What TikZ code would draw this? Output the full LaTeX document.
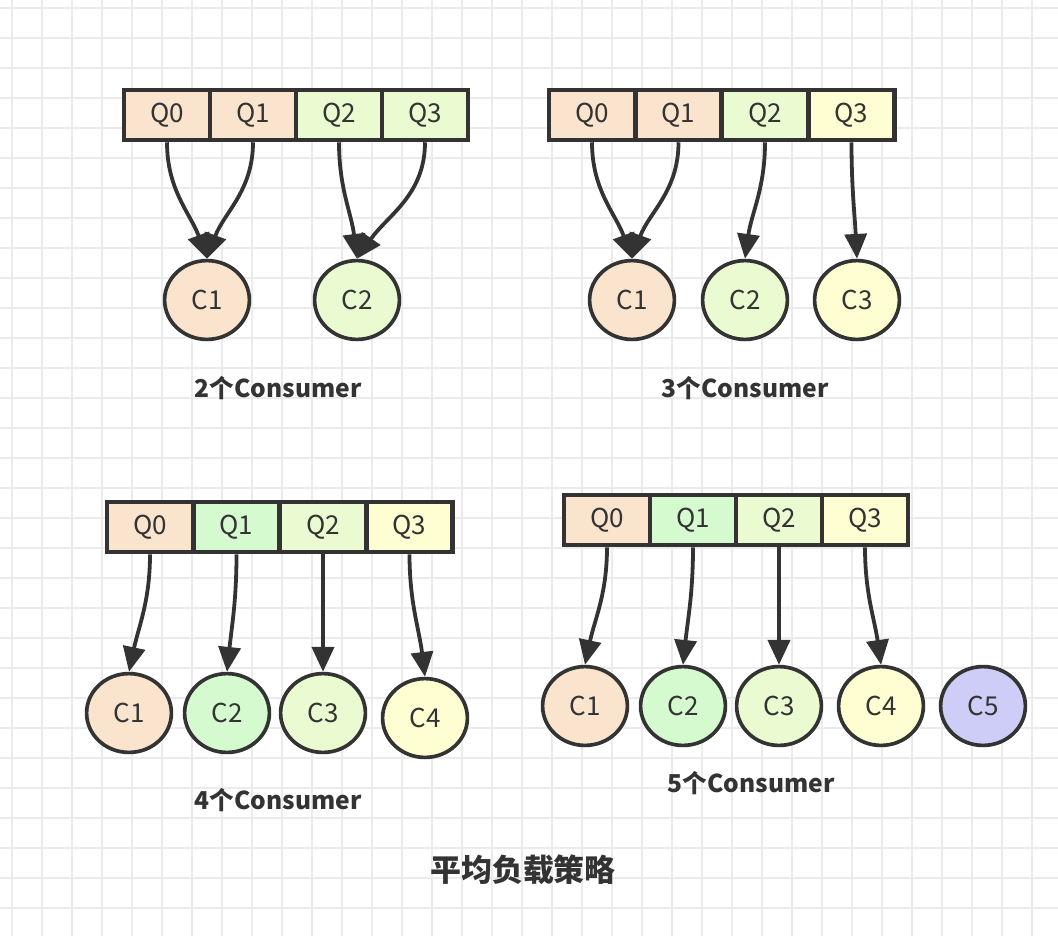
\documentclass[tikz,border=0pt]{standalone}
\usepackage{fontspec}
\setmainfont{Noto Sans CJK SC}
\usetikzlibrary{arrows.meta,shapes.geometric}
\definecolor{ink}{HTML}{333333}
\definecolor{gridline}{HTML}{EBEBEB}
\definecolor{qpeach}{HTML}{FAE4CD}
\definecolor{qlime}{HTML}{EAFBD2}
\definecolor{qgreen}{HTML}{D6FAD0}
\definecolor{qyellow}{HTML}{FEFED2}
\definecolor{qviolet}{HTML}{CDCDF8}
\tikzset{
  qcell/.style={draw=ink,line width=3.2pt,minimum width=2.15cm,minimum height=1.25cm,inner sep=0pt,text=ink,font=\fontsize{18.5}{20}\selectfont},
  cnode/.style={ellipse,draw=ink,line width=2.6pt,minimum width=2.12cm,minimum height=1.97cm,inner sep=0pt,text=ink,font=\fontsize{18.5}{20}\selectfont},
  link/.style={draw=ink,line width=2.7pt,-{Triangle[length=0.62cm,width=0.55cm]}},
  caption/.style={text=ink,font=\fontsize{17.5}{20}\selectfont\bfseries}
}

\begin{document}
\begin{tikzpicture}[x=0.025cm,y=-0.025cm]
\fill[white] (0,0) rectangle (1058,936);
\useasboundingbox (0,0) rectangle (1058,936);
\foreach \gx in {12,42,...,1052} \draw[gridline,line width=1.1pt] (\gx,0) -- (\gx,936);
\foreach \gy in {8,38,...,928} \draw[gridline,line width=1.1pt] (0,\gy) -- (1058,\gy);

% 2 consumers
\foreach \i/\c in {0/qpeach,1/qpeach,2/qlime,3/qlime}
  \node[qcell,fill=\c] (pa\i) at ({167+86*\i},115) {\raisebox{-0.05cm}{Q\i}};
\node[cnode,fill=qpeach] (ca1) at (207,300) {C1};
\node[cnode,fill=qlime] (ca2) at (357,300) {C2};
\draw[link] (pa0.south) to[out=-90,in=110] (ca1.north);
\draw[link] (pa1.south) to[out=-90,in=70] (ca1.north);
\draw[link] (pa2.south) to[out=-90,in=97] (ca2.north);
\draw[link] (pa3.south) to[out=-90,in=55] (ca2.north);
\node[caption] (la) at (278,388) {2个Consumer};

% 3 consumers
\foreach \i/\c in {0/qpeach,1/qpeach,2/qlime,3/qyellow}
  \node[qcell,fill=\c] (pb\i) at ({592+86.5*\i},115) {\raisebox{-0.05cm}{Q\i}};
\node[cnode,fill=qpeach] (cb1) at (632,300) {C1};
\node[cnode,fill=qlime] (cb2) at (745,300) {C2};
\node[cnode,fill=qyellow] (cb3) at (857,300) {C3};
\draw[link] (pb0.south) to[out=-90,in=110] (cb1.north);
\draw[link] (pb1.south) to[out=-90,in=70] (cb1.north);
\draw[link] (pb2.south) to[out=-90,in=82] (cb2.north);
\draw[link] (pb3.south) to[out=-90,in=93] (cb3.north);
\node[caption] (lb) at (745,388) {3个Consumer};

% 4 consumers
\foreach \i/\c in {0/qpeach,1/qgreen,2/qlime,3/qyellow}
  \node[qcell,fill=\c] (pc\i) at ({150+86.5*\i},527) {\raisebox{-0.05cm}{Q\i}};
\node[cnode,fill=qpeach] (cc1) at (129,713) {C1};
\node[cnode,fill=qgreen] (cc2) at (227,713) {C2};
\node[cnode,fill=qlime] (cc3) at (323,713) {C3};
\node[cnode,fill=qyellow] (cc4) at (425,718) {C4};
\draw[link] (pc0.south) to[out=-90,in=78] (cc1.north);
\draw[link] (pc1.south) to[out=-90,in=84] (cc2.north);
\draw[link] (pc2.south) to[out=-90,in=90] (cc3.north);
\draw[link] (pc3.south) to[out=-90,in=97] (cc4.north);
\node[caption] (lc) at (278,800) {4个Consumer};

% 5 consumers
\foreach \i/\c in {0/qpeach,1/qgreen,2/qlime,3/qyellow}
  \node[qcell,fill=\c] (pd\i) at ({607+86*\i},520) {\raisebox{-0.05cm}{Q\i}};
\node[cnode,fill=qpeach] (cd1) at (585,706) {C1};
\node[cnode,fill=qgreen] (cd2) at (683,706) {C2};
\node[cnode,fill=qlime] (cd3) at (779,706) {C3};
\node[cnode,fill=qyellow] (cd4) at (881,706) {C4};
\node[cnode,fill=qviolet] (cd5) at (983,706) {C5};
\draw[link] (pd0.south) to[out=-90,in=78] (cd1.north);
\draw[link] (pd1.south) to[out=-90,in=84] (cd2.north);
\draw[link] (pd2.south) to[out=-90,in=90] (cd3.north);
\draw[link] (pd3.south) to[out=-90,in=98] (cd4.north);
\node[caption] (ld) at (751,783) {5个Consumer};

\node[text=ink,font=\fontsize{22}{24}\selectfont\bfseries] (title) at (523,870) {平均负载策略};
\end{tikzpicture}
\end{document}
